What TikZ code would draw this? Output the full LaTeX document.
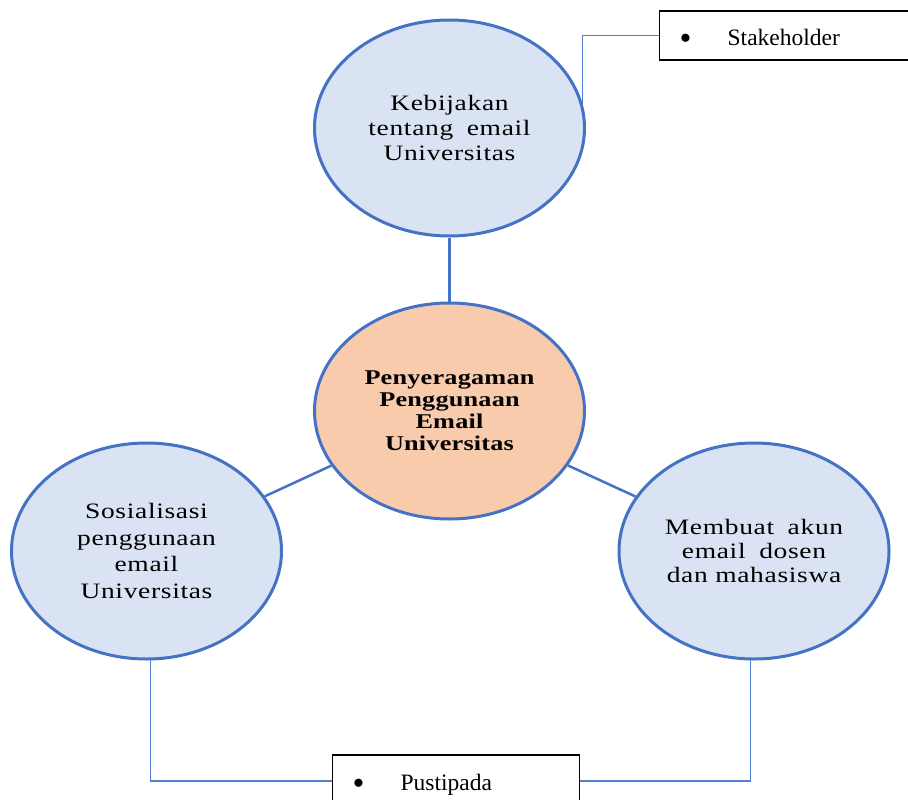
\documentclass[tikz,border=0pt]{standalone}
\usepackage{fontspec}
\setmainfont{Liberation Serif}
\newfontfamily\bubblefont[FakeStretch=1.25,LetterSpace=3]{Liberation Serif}
\newfontfamily\corefont[FakeStretch=1.25,LetterSpace=1]{Liberation Serif}
\usetikzlibrary{shapes.geometric}

\definecolor{ringblue}{HTML}{4472C4}
\definecolor{bubblefill}{HTML}{DAE3F3}
\definecolor{corefill}{HTML}{F8CBAD}
\definecolor{linkblue}{HTML}{4F7FD0}

\newcommand{\bigdot}{\raisebox{-4pt}[0pt][0pt]{\fontsize{34}{34}\selectfont\textbullet}}

\begin{document}
\begin{tikzpicture}[x=1pt,y=-1pt,
  bubble/.style={ellipse, draw=ringblue, line width=3pt, fill=bubblefill,
    minimum width=270pt, minimum height=216pt, inner sep=0pt, align=center,
    font=\bubblefont\fontsize{22}{25}\selectfont},
  core/.style={bubble, fill=corefill,
    font=\corefont\bfseries\fontsize{21}{22}\selectfont},
  tag/.style={draw=black, line width=1.3pt, fill=white, anchor=west,
    inner xsep=0pt, text width=256pt, align=left, text depth=0pt,
    font=\fontsize{23.5}{26}\selectfont},
  spoke/.style={draw=ringblue, line width=2.5pt},
  leader/.style={draw=linkblue, line width=1.2pt}]

  % page frame
  \fill[white] (0,0) rectangle (908,800);
  \clip (0,0) rectangle (908,800);

  % the four ellipses
  \node[bubble] (top)   at (449.5,128) {Kebijakan\\tentang\hspace{6pt} email\\Universitas};
  \node[core]   (core)  at (449.5,411) {Penyeragaman\\Penggunaan\\Email\\Universitas};
  \node[bubble, font=\bubblefont\fontsize{22}{26.5}\selectfont]
                (left)  at (146.5,551) {Sosialisasi\\penggunaan\\email\\Universitas};
  \node[bubble, font=\bubblefont\fontsize{22}{24}\selectfont]
                (right) at (754,551)   {Membuat\hspace{6pt} akun\\email\hspace{6pt} dosen\\dan mahasiswa};

  % labelled boxes
  \node[tag, minimum height=49pt, text width=256pt, text height=21pt] (sh) at (659,35.5)
    {\hspace*{20pt}\makebox[48pt][l]{\bigdot}Stakeholder};
  \node[tag, minimum height=52pt, text width=247pt, text height=18pt] (pu) at (332,781)
    {\hspace*{20pt}\makebox[48pt][l]{\bigdot}Pustipada};

  % spokes from the centre
  \draw[spoke] (top) -- (core);
  \draw[spoke] (core) -- (left);
  \draw[spoke] (core) -- (right);

  % leader lines to the boxes
  \draw[leader] (sh.west) -| (top.10.5);
  \draw[leader] (left.-88) |- (pu.west);
  \draw[leader] (right.-92.5) |- (pu.east);
\end{tikzpicture}
\end{document}
